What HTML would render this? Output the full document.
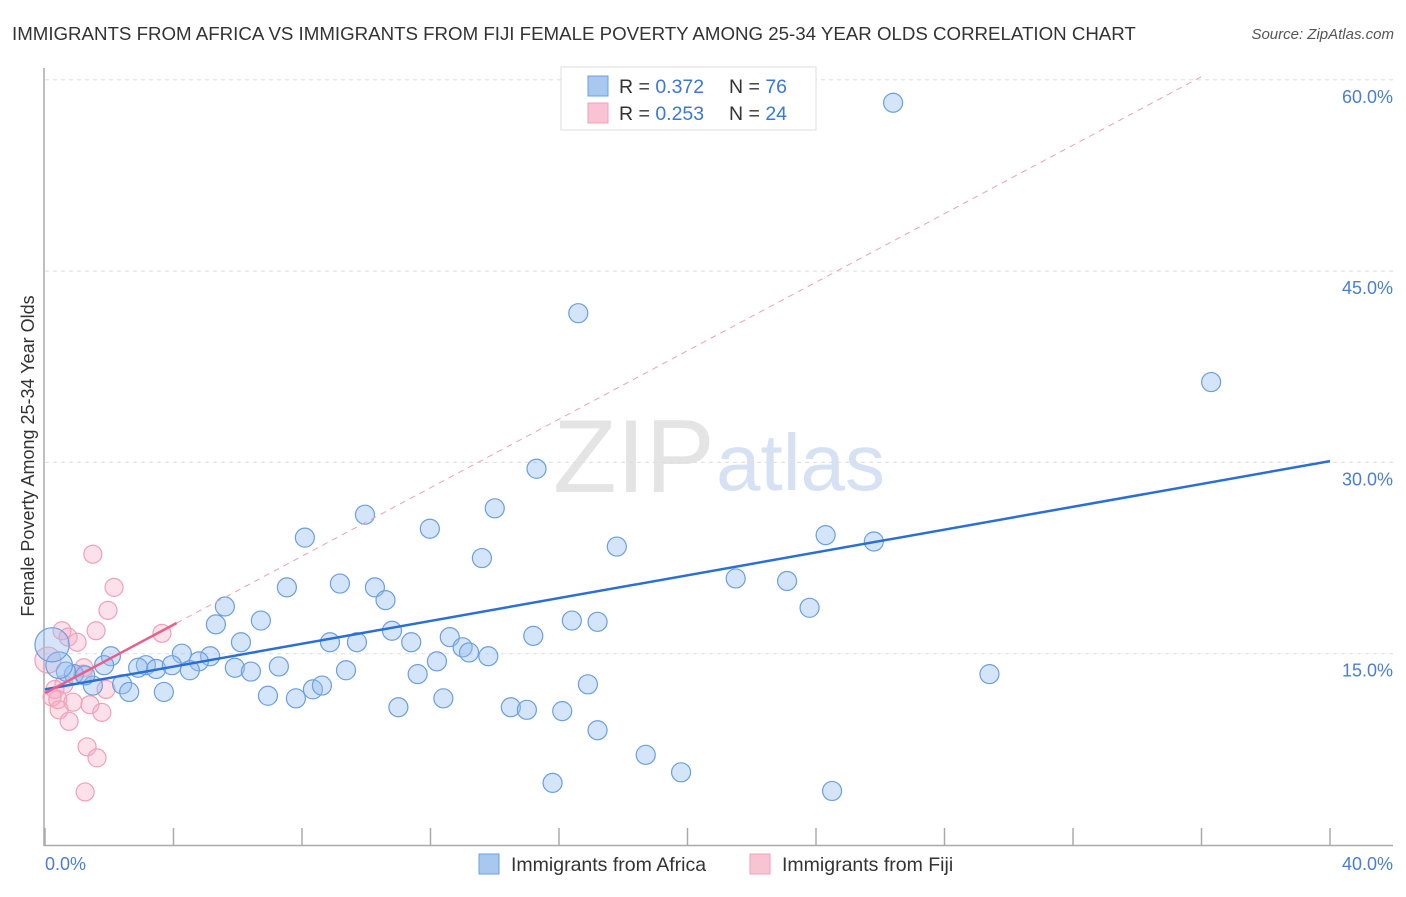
<!DOCTYPE html>
<html><head><meta charset="utf-8"><style>
body{margin:0;background:#fff;font-family:"Liberation Sans",sans-serif;}
svg text{font-family:"Liberation Sans",sans-serif;}
</style></head><body>
<svg id="chart" width="1406" height="892">
<text x="12" y="40" font-size="18.7" fill="#333">IMMIGRANTS FROM AFRICA VS IMMIGRANTS FROM FIJI FEMALE POVERTY AMONG 25-34 YEAR OLDS CORRELATION CHART</text>
<text x="1394" y="39" font-size="15" fill="#555" font-style="italic" text-anchor="end">Source: ZipAtlas.com</text>
<text x="553" y="492" font-size="104" fill="#e4e4e4" font-family="Liberation Serif">ZIP</text>
<text x="716" y="490" font-size="80" fill="#d6e2f3">atlas</text>
<g id="grid"></g>
<line x1="44" y1="68" x2="44" y2="846" stroke="#aaa" stroke-width="1.5"/>
<line x1="44" y1="845.5" x2="1393" y2="845.5" stroke="#aaa" stroke-width="1.5"/>
<text transform="translate(34,456) rotate(-90)" font-size="18" fill="#333" text-anchor="middle">Female Poverty Among 25-34 Year Olds</text>
<text x="45" y="870" font-size="18" fill="#4a7fd0">0.0%</text>
<text x="1393" y="870" font-size="18" fill="#4a7fd0" text-anchor="end">40.0%</text>
<g id="points"></g>
<g id="lines"></g>
<g>
<rect x="561" y="67" width="255" height="63" fill="#fff" stroke="#ddd"/>
<rect x="588" y="76" width="20" height="20" fill="#a9c8f0" stroke="#6a9fe0"/>
<rect x="588" y="103" width="20" height="20" fill="#f8c4d4" stroke="#f0a0b8"/>
<text x="619" y="93" font-size="19.5" fill="#333">R = <tspan fill="#3a78d8">0.372</tspan></text>
<text x="729" y="93" font-size="19.5" fill="#333">N = <tspan fill="#3a78d8">76</tspan></text>
<text x="619" y="120" font-size="19.5" fill="#333">R = <tspan fill="#3a78d8">0.253</tspan></text>
<text x="729" y="120" font-size="19.5" fill="#333">N = <tspan fill="#3a78d8">24</tspan></text>
</g>
<rect x="479" y="854" width="20" height="20" fill="#a9c8f0" stroke="#6a9fe0"/>
<text x="511" y="871" font-size="19.5" fill="#333">Immigrants from Africa</text>
<rect x="750" y="854" width="20" height="20" fill="#f8c4d4" stroke="#f0a0b8"/>
<text x="782" y="871" font-size="19.5" fill="#333">Immigrants from Fiji</text>
</svg>
<script>
const yTicks=[15,30,45,60];
const yTickLabels=["15.0%","30.0%","45.0%","60.0%"];
const xTicks=[0,4,8,12,16,20,24,28,32,36,40];
const africaX=[26.4,16.6,36.3,15.3,9.96,14.0,11.98,8.09,24.3,25.8,17.8,13.6,21.5,23.1,7.53,9.18,10.27,10.6,23.8,5.60,6.72,16.4,17.2,5.32,10.8,6.10,8.87,9.71,11.4,12.6,15.2,13.0,13.2,13.8,12.2,4.26,5.14,4.79,3.14,2.90,3.46,3.95,4.51,5.91,6.41,7.28,9.37,11.6,2.05,1.84,29.4,2.40,1.49,2.62,3.70,6.94,7.81,8.34,8.62,16.9,11.0,12.4,14.5,15.0,16.1,17.2,18.7,19.8,15.8,24.5,0.9,0.65,1.25,0.44,0.22];
const africaY=[58.2,41.7,36.3,29.5,25.9,26.4,24.8,24.1,24.3,23.8,23.4,22.5,20.9,20.7,20.2,20.5,20.2,19.2,18.6,18.7,17.6,17.6,17.5,17.3,16.8,15.9,15.9,15.9,15.9,16.3,16.4,15.5,15.1,14.8,14.4,15.0,14.8,14.4,14.1,13.9,13.8,14.1,13.7,13.9,13.6,14.0,13.7,13.4,14.8,14.1,13.4,12.6,12.5,12.0,12.0,11.7,11.5,12.2,12.5,12.6,10.8,11.5,10.8,10.6,10.5,9.0,7.07,5.7,4.87,4.24,13.4,13.6,13.3,14.1,15.7];
const africaSize=[1,1,1,1,1,1,1,1,1,1,1,1,1,1,1,1,1,1,1,1,1,1,1,1,1,1,1,1,1,1,1,1,1,1,1,1,1,1,1,1,1,1,1,1,1,1,1,1,1,1,1,1,1,1,1,1,1,1,1,1,1,1,1,1,1,1,1,1,1,1,1,1,1,1.4,1.8];
const fijiX=[1.49,2.15,1.96,1.59,3.64,0.53,0.72,1.0,0.09,1.21,1.18,0.59,0.31,0.22,0.40,0.87,1.40,0.44,1.77,0.75,1.9,1.31,1.62,1.25];
const fijiY=[22.8,20.2,18.4,16.8,16.6,16.8,16.3,15.9,14.5,13.9,13.4,12.6,12.2,11.6,11.4,11.2,11.0,10.6,10.4,9.7,12.2,7.7,6.83,4.16];
const africaTrend=[12.2,30.1];
const fijiTrend=[11.9,1.343];
const NS="http://www.w3.org/2000/svg";
const xs=v=>45+v/40*1285, ys=v=>845-v/15*191.3;
function mk(t,a,p){const e=document.createElementNS(NS,t);for(const k in a)e.setAttribute(k,a[k]);p.appendChild(e);return e;}
const grid=document.getElementById('grid');
yTicks.forEach((t,i)=>{
 const l=mk('line',{x1:45,x2:1393,y1:ys(t),y2:ys(t),stroke:'#ddd','stroke-dasharray':'4,4'},grid);
 
 
 const tx=mk('text',{x:1393,y:ys(t)+23,'font-size':18,fill:'#4a7fd0','text-anchor':'end'},grid);
 tx.textContent=yTickLabels[i];
 
 
});
xTicks.forEach(t=>{
 const l=mk('line',{x1:xs(t),x2:xs(t),y1:828,y2:845,stroke:'#aaa','stroke-width':1.5},grid);
 
 
});
const pts=document.getElementById('points');
fijiX.forEach((x,i)=>{
 const c=mk('circle',{cx:xs(x),cy:ys(fijiY[i]),r:i==8?13:9,fill:'rgba(246,170,195,0.35)',stroke:'#f0a0b8','stroke-width':1.2},pts);
 
 
});
africaX.forEach((x,i)=>{
 const c=mk('circle',{cx:xs(x),cy:ys(africaY[i]),r:9.5*africaSize[i],fill:'rgba(150,190,240,0.4)',stroke:'#6a9fe0','stroke-width':1.2},pts);
 
 
});
const ln=document.getElementById('lines');
let a=mk('line',{x1:xs(0),y1:ys(africaTrend[0]),x2:xs(40),y2:ys(africaTrend[1]),stroke:'#2a6fd6','stroke-width':2.5},ln);


let f1=mk('line',{x1:xs(0),y1:ys(fijiTrend[0]),x2:xs(4.1),y2:ys(fijiTrend[0]+fijiTrend[1]*4.1),stroke:'#e8608a','stroke-width':2.5},ln);


let f2=mk('line',{x1:xs(4.1),y1:ys(fijiTrend[0]+fijiTrend[1]*4.1),x2:xs(36),y2:ys(fijiTrend[0]+fijiTrend[1]*36),stroke:'#eea0b8','stroke-width':1,'stroke-dasharray':'6,5'},ln);


</script>
</body></html>
